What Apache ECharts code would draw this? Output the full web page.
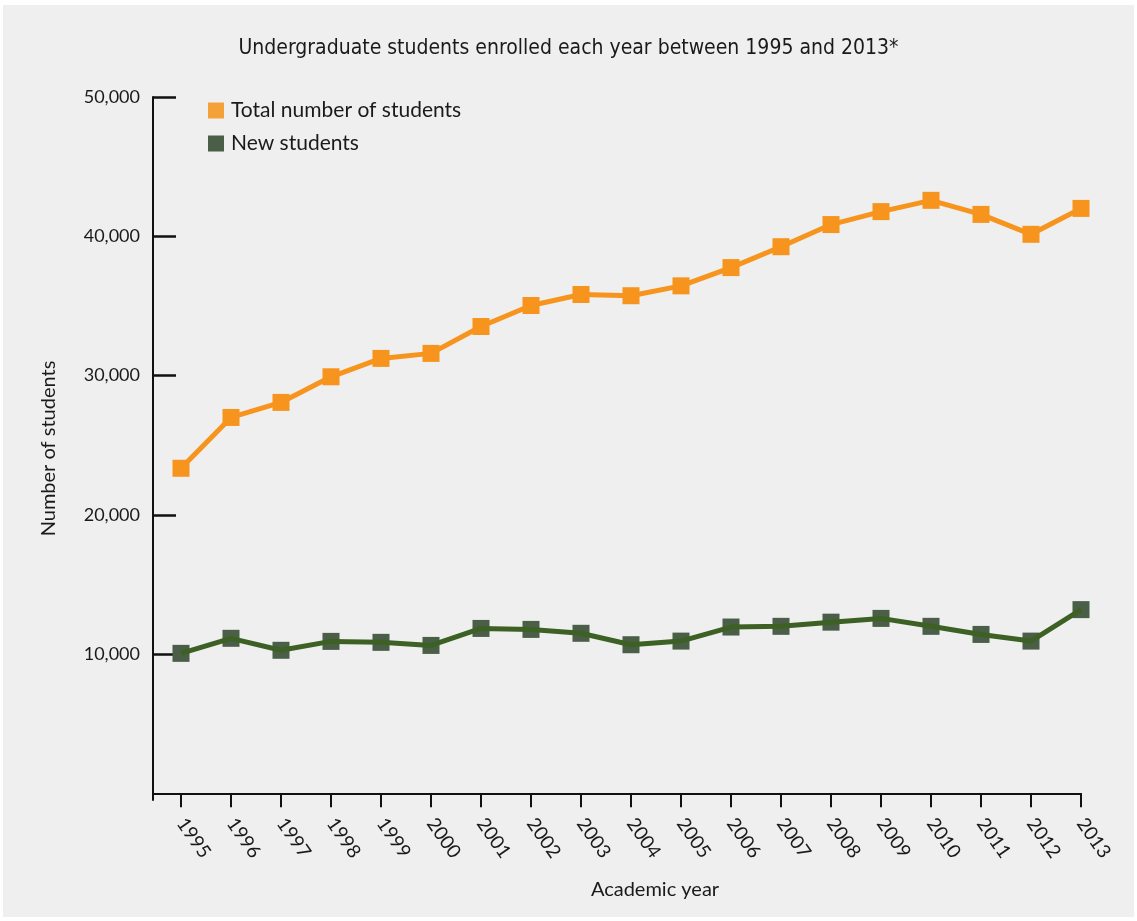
<!DOCTYPE html>
<html>
<head>
<meta charset="utf-8">
<script src="https://cdn.jsdelivr.net/npm/echarts@6/dist/echarts.min.js"></script>
<style>
html,body{margin:0;padding:0;background:#ffffff;}
#chart{position:absolute;left:3px;top:5px;width:1131px;height:912px;background:#eeefee;}
</style>
</head>
<body>
<div id="chart"></div>
<script>
const years = [1995,1996,1997,1998,1999,2000,2001,2002,2003,2004,2005,2006,2007,2008,2009,2010,2011,2012,2013];
const totalStudents = [23340,26990,28070,29910,31230,31590,33520,35030,35820,35730,36440,37750,39250,40840,41770,42580,41570,40140,42000];
const newStudents = [10050,11130,10270,10910,10840,10620,11840,11770,11490,10670,10930,11940,11990,12290,12560,11990,11410,10930,13190];
const yTicks = [10000,20000,30000,40000,50000];

const font = 'Lato, "Noto Sans", sans-serif';
const chart = echarts.init(document.getElementById('chart'));
chart.setOption({
  backgroundColor: 'transparent',
  animation: false,
  title: {
    text: 'Undergraduate students enrolled each year between 1995 and 2013*',
    left: 'center', top: 28,
    textStyle: {fontFamily: '"Liberation Sans Narrow", "DejaVu Sans Condensed", sans-serif', fontSize: 21, fontWeight: 'normal', color: '#1a1a1a'}
  },
  legend: {
    orient: 'vertical', left: 200, top: 90,
    itemWidth: 16, itemHeight: 16, itemGap: 12,
    data: [
      {name: 'Total number of students', icon: 'rect', itemStyle: {color: '#f3a23a'}},
      {name: 'New students', icon: 'rect', itemStyle: {color: '#4a5e48'}}
    ],
    textStyle: {fontFamily: font, fontSize: 21, color: '#1a1a1a', padding: [0,0,0,2]}
  },
  grid: {left: 150, right: 53, top: 92, bottom: 117},
  xAxis: {
    type: 'value', min: 1994.44, max: 2013,
    name: 'Academic year', nameLocation: 'middle', nameGap: 80,
    nameTextStyle: {fontFamily: font, fontSize: 20, color: '#1a1a1a', padding: [0,0,0,76]},
    axisLine: {lineStyle: {color: '#111', width: 2}},
    axisTick: {show: true, length: 14, lineStyle: {color: '#111', width: 2}, customValues: years},
    axisLabel: {customValues: years, rotate: -55, margin: 20, fontFamily: font, fontSize: 19, color: '#1a1a1a', formatter: v => String(v)},
    splitLine: {show: false}
  },
  yAxis: {
    type: 'value', min: -480, max: 50000,
    name: 'Number of students', nameLocation: 'middle', nameGap: 94,
    nameTextStyle: {fontFamily: font, fontSize: 20, color: '#1a1a1a'},
    axisLine: {show: true, lineStyle: {color: '#111', width: 2}},
    axisTick: {show: true, inside: true, length: 23, lineStyle: {color: '#111', width: 2.5}, customValues: yTicks},
    axisLabel: {customValues: yTicks, margin: 13, fontFamily: font, fontSize: 18, color: '#1a1a1a', formatter: v => v.toLocaleString('en-US')},
    splitLine: {show: false}
  },
  series: [
    {
      name: 'Total number of students', type: 'line',
      data: years.map((y, i) => [y, totalStudents[i]]),
      symbol: 'rect', symbolSize: 17, showAllSymbol: true,
      lineStyle: {color: '#f7941d', width: 5},
      itemStyle: {color: '#f7941d'},
      z: 3
    },
    {
      name: 'New students', type: 'scatter',
      data: years.map((y, i) => [y, newStudents[i]]),
      symbol: 'rect', symbolSize: 17,
      itemStyle: {color: '#4a5e48', opacity: 1},
      z: 2
    },
    {
      name: 'New students line', type: 'line',
      data: years.map((y, i) => [y, newStudents[i]]),
      symbol: 'none',
      lineStyle: {color: '#3d6024', width: 5},
      z: 4
    }
  ]
});
</script>
</body>
</html>
